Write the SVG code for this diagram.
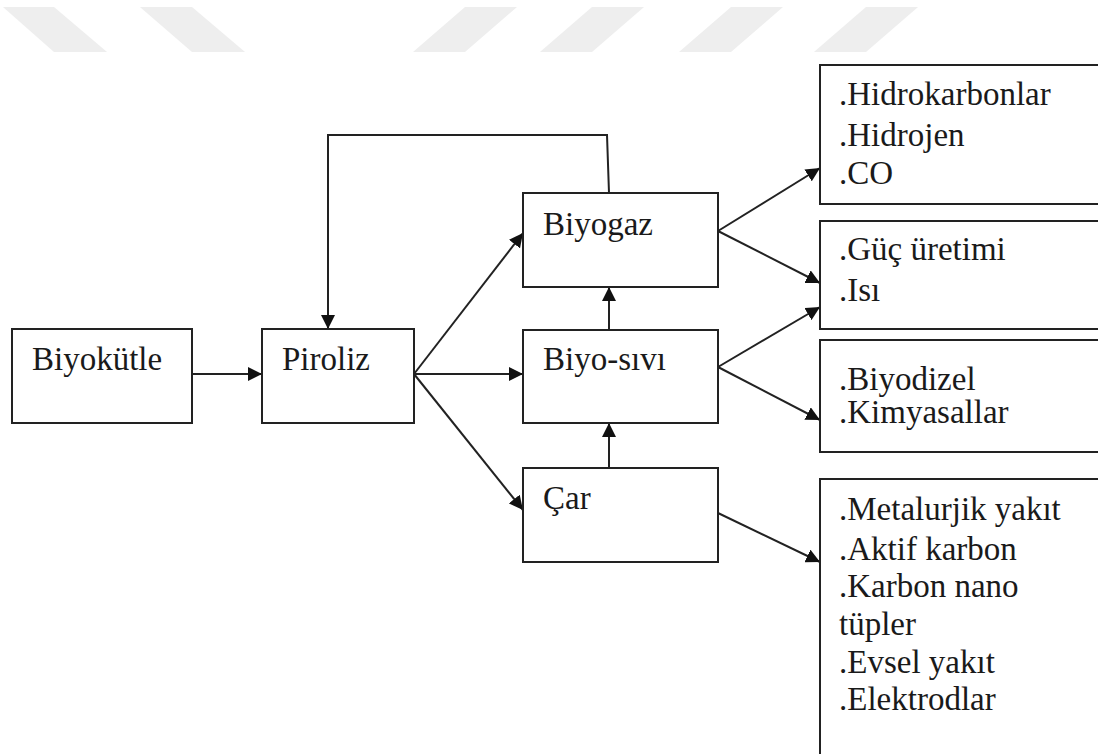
<svg xmlns="http://www.w3.org/2000/svg" width="1098" height="754" viewBox="0 0 1098 754">
<defs>
<style>
.box{fill:#fff;stroke:#222;stroke-width:2}
.t{font-family:"Liberation Serif","DejaVu Serif","Times New Roman",serif;font-size:33px;fill:#1a1a1a}
.c{fill:none;stroke:#222;stroke-width:2}
.wm{fill:#eeeeee}
</style>
<marker id="ah" viewBox="0 0 10 10" refX="10" refY="5" markerWidth="7" markerHeight="7" markerUnits="strokeWidth" orient="auto">
<path d="M0,0 L10,5 L0,10 Z" fill="#111"/>
</marker>
</defs>
<rect width="1098" height="754" fill="#fff"/>
<g id="watermark">
<polygon class="wm" points="3,7 54,7 107,52 54,52"/>
<polygon class="wm" points="140,7 192,7 245,52 192,52"/>
<polygon class="wm" points="465,7 517,7 465,52 413,52"/>
<polygon class="wm" points="592,7 644,7 592,52 540,52"/>
<polygon class="wm" points="731,7 783,7 731,52 679,52"/>
<polygon class="wm" points="866,7 918,7 866,52 814,52"/>
</g>
<g id="connectors">
<line class="c" x1="192" y1="374" x2="262" y2="374" marker-end="url(#ah)"/>
<polyline class="c" points="609,193 607,135 328,135 328,329" marker-end="url(#ah)"/>
<line class="c" x1="414" y1="374" x2="523" y2="233" marker-end="url(#ah)"/>
<line class="c" x1="414" y1="374" x2="523" y2="374" marker-end="url(#ah)"/>
<line class="c" x1="414" y1="374" x2="523" y2="510" marker-end="url(#ah)"/>
<line class="c" x1="609" y1="330" x2="609" y2="287" marker-end="url(#ah)"/>
<line class="c" x1="609" y1="468" x2="609" y2="423" marker-end="url(#ah)"/>
<line class="c" x1="718" y1="231" x2="820" y2="168" marker-end="url(#ah)"/>
<line class="c" x1="718" y1="231" x2="820" y2="283" marker-end="url(#ah)"/>
<line class="c" x1="718" y1="367" x2="820" y2="307" marker-end="url(#ah)"/>
<line class="c" x1="718" y1="367" x2="820" y2="420" marker-end="url(#ah)"/>
<line class="c" x1="718" y1="513" x2="820" y2="562" marker-end="url(#ah)"/>
</g>
<g id="biyokutle">
<rect class="box" x="12" y="329" width="180" height="94"/>
<text class="t" x="32" y="370">Biyokütle</text>
</g>
<g id="piroliz">
<rect class="box" x="262" y="329" width="152" height="94"/>
<text class="t" x="282" y="370">Piroliz</text>
</g>
<g id="biyogaz">
<rect class="box" x="523" y="193" width="195" height="94"/>
<text class="t" x="543" y="235">Biyogaz</text>
</g>
<g id="biyosivi">
<rect class="box" x="523" y="330" width="195" height="93"/>
<text class="t" x="543" y="370">Biyo-sıvı</text>
</g>
<g id="car">
<rect class="box" x="523" y="468" width="195" height="94"/>
<text class="t" x="543" y="509">Çar</text>
</g>
<g id="gaz-urunleri">
<rect class="box" x="820" y="65" width="300" height="139"/>
<text class="t" x="839" y="105">.Hidrokarbonlar</text>
<text class="t" x="839" y="146">.Hidrojen</text>
<text class="t" x="839" y="184">.CO</text>
</g>
<g id="enerji">
<rect class="box" x="820" y="221" width="300" height="108"/>
<text class="t" x="839" y="260">.Güç üretimi</text>
<text class="t" x="839" y="301">.Isı</text>
</g>
<g id="sivi-urunleri">
<rect class="box" x="820" y="340" width="300" height="112"/>
<text class="t" x="839" y="390">.Biyodizel</text>
<text class="t" x="839" y="423">.Kimyasallar</text>
</g>
<g id="car-urunleri">
<rect class="box" x="820" y="479" width="300" height="300"/>
<text class="t" x="839" y="520">.Metalurjik yakıt</text>
<text class="t" x="839" y="560">.Aktif karbon</text>
<text class="t" x="839" y="597">.Karbon nano</text>
<text class="t" x="839" y="635">tüpler</text>
<text class="t" x="839" y="673">.Evsel yakıt</text>
<text class="t" x="839" y="710">.Elektrodlar</text>
</g>
</svg>
